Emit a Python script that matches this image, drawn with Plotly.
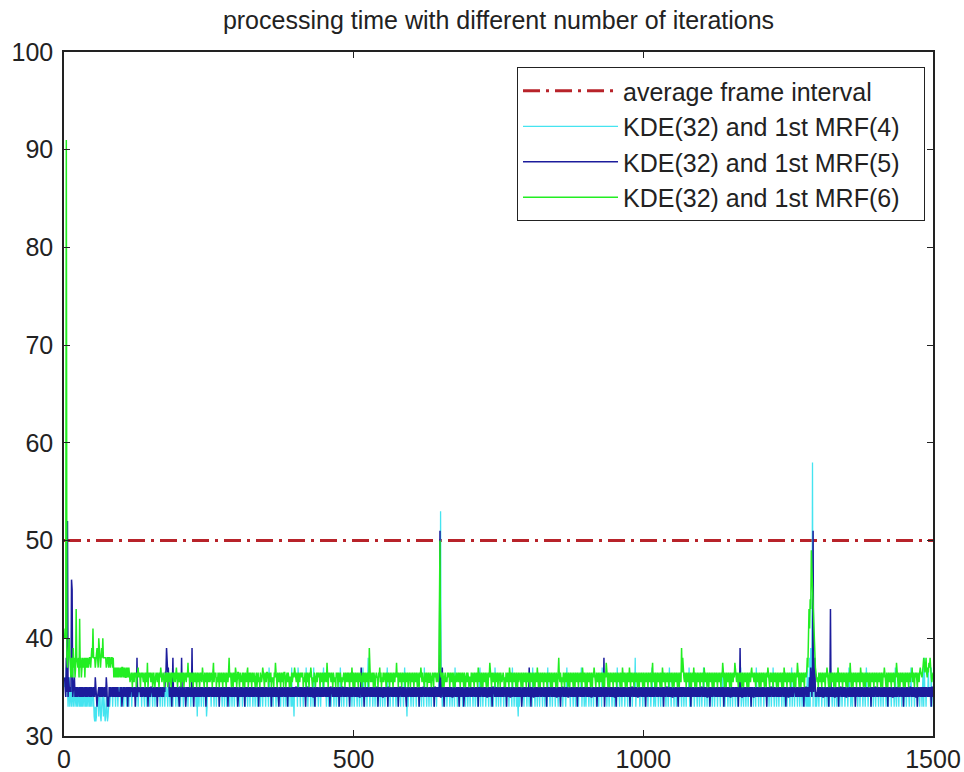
import plotly.graph_objects as go

# ---- data (frame index 1..1500), encoded one char per frame: value = 30 + base36(char)/2 ----
GREEN_STR = """
kmkkgegikg ecgeciegce qgeegcoegc egeggcgege gegggegigm gggeggigek ggegigkggg ggegggegge gggegcecec ecececcece
ecececcece cecbcdcadc bdcdacdecd cadcdcbdca dcbfacdcdb cdacdbacdc bdcadcedbc dcacdbdcad cbdcadcdbc dbcecadcbd
cadcbdacdc bdcfcdadcb dcadcbdcad bcdacdcbec cadbcdadcb dbcdcadfbd cdacbdcadc bdcadcbdca dcbdgcdcad cadcbedacd
dcadcbcdad cadcbdeacd bdcadcbdca cdacdbcadc bcedcadcbd dcadbcdacb cadcfdcadc bdcadcbdad dcacdbdcac cadbcdcedb
bdcadcbdcd cdacbdcadb dcadcedcac bdcacdbdcd cadcbdcadb dcbfcadcdc bdcadcbcad cdadcbdcac bcdcadbcdb dcadcbecad
cadcbdcadc bdcacdbdca dcbdcaicbd bcdadcacdc cadcebdacb dbcdcadcbd cadcbdcadc bdcfcdadcb dcadcbdcad cbdacdcadc
bdcadcbdca dcadcecbdc cadcbdacdb bdcacdcadc dcbdcbdced cdadcacdbc bdcdcadcbd cadcacdbcd bdcadcbdca dcacdbdcac
cadcbdcadc bdcaecbdca dcadcbdcad cadcfdcadc bdcadcbdac dcadcbcdca cadcbdcaed bdcadcbdca dcadbcdcad cadcbdcadc
bdcadcbdca dcadcbecad cadcbdcadc bdcadcbdca dcadcbdcad cadgcbdcac bdcadcbdca dcadcbdcad cadcbdcadc bdcaecbdca
dcadcbdcad cadcedcadc bdcadcbdca dcadcfdcad cadcbdcadc bdcadcbdca dcaecbdcad cadcbecadc bdcadcbdca dcadcbdcad
cadcbdcadc bdcadfbdca dcadcbdcad caecbdcadc bdcadcbdca dcadcbdcad cadcbidgdc bdcadcbdca dcadcbecad cadcbdcadc
bdcaecbdca dcadcbdcad cadcbdcadc bdcadcfdca dcadcbdcad cadcbdcfdc bdcadcbdca dcadcbdcad cadcbdecdc bdcadcbdca
dcadcbdcad cadcedcadc bdcadcbdca dcadcbdcad caecbdcadc bdcadcbdca dcadcfdcad cadcbdcadc cdgeiqmsqw yusqkgedcb
cadcbdcadc bdcadcedca dcadcbdcad cadcbecadc bdcadcbdca dcadcbfcad cadcbdcadc bdcaecbdca dcadcbdcad cadcbdcadc
bdcadcbdca dcadcedcad cadcbdcadc bdcadcfdca dcadcbdcad cadcbdcadc bdcebdcadc dcadcbdedc cdegfdegdc edfegdcbdd
"""
BLUE_STR = """
c98g968ca9 a9wu89ac8a 8a8a98a8a8 a8a89a8a8a 89a8a8a89a 8a8ca8689a 8a8a8a89a8 a8ca686a8a 89a8a8a8a8 a8a898a8a6
8a8a98a8a6 a8a8a9a8a8 8a6a8g8a9a a8a8a8a98a 8a8a6a8a8a a98a8a8a8a 6a8a8a98a8 a8a9ddidde a8a8a6ag8a 8a8a98a86a
a8g8a8a8a6 8a8a8a98a8 i8a6a8a8a8 a8a8a8a8a9 8a8a6a8a8a 8a98a8a8a8 a8a8a8a6a8 9a8a8a8a8a 8a6a8a98a8 a8a8a8a8a6
8a8a8a8a8a a6a8a8a98a 8a8a8a8a8a 98a8a6a8a8 a8a8a8a8a8 8a8a98a6a8 a8a8a8a8a8 6a8a8a8a98 a8a8a6a8a8 8a8a8a8a8a
a8a98a8a8a 8a8a8a6a8a a8a8a8a8a8 8a6a8a8a98 a8a8a8a8a8 8a8a8a8a6a a98a8a8a8a 8a8a6a8a8a a8a8a8a8a9 8a6a8a8a8a
a8a8a8a8a8 8ae8a8a6a8 a8a8a98a8a 8a8a8a8a8a a6a8a8a8a8 8a8a8a8a6a a8a98a8a8a 8a8a8a6a8a a8a8a8a8a8 6a8a8a98a8
a8a8a8a8a8 8a6a8a8a8a a8a8a8a98a 8a8a8a8a6a a8a8a8a8a8 8ae8a6a8a8 a8a8a8a8a8 8a8a98a8a8 a6a8a8a8a6 8a8a8a8a8a
a8a8a8a98a 8a8a6a8a8a a8a8a8a8a8 8a8a8a8a6a a98a8a8a8a 8a8a8a8a8a a8a6a8a8a8 8a8a8a98a8 a8a8a8a8a6 8a8a8a8a8a
a8e8a6a8a8 8a8a8a8a8a a8a8a98a8a 8a6a8a8a8a a8a8a8a8a8 8a8a8a6a8a a8a8a8a8a8 8a98a8a8a8 a8a8a6a8a8 8a8a8a8a8a
a8a8a8a8a8 8a8a98a8a6 a8a8a8a8a8 8g6a8a8a8a a8a8a8a8a8 8a6a8a8a98 a8a8a8a8a8 8a8a8a6a8a a8a8a8a8a8 8a8a98a8a8
a8a6a8a8a8 8a8a8a8a8a a8a8a8a98a 8a8a6a8a8a a8a8a8a8a8 8a98a8a8a6 a8a8a8a8a8 8a8a8a8a8a a6a8a8a98a 8a8a8a8a8a
a8a8a8a8a8 8a8a6a8a8a a8a98a8a8a 8a8a8a8a6a a8a8a8a8a8 8a8a8a98a8 a8a6a8i8a8 8a8a8a8a8a a8a8a6a8a8 8a98a8a8a8
a8a8a8a8a8 8a6a8a8a8a a8a8a8a98a 8a8a8a8a8a a8a8a6a8a8 8a8a8a8a8a a98a8a8a8a 8a8a8a6a8a a8a8a8c9ec 8ca9gg8989
a8a8a8a8a8 8a8a98a8a6 a8q8a8a8a8 8a8a8a6a8a a8a8a8a8a8 8a98a8a8a8 a8a8a6a8a8 8a8a8a8a98 a8a8a8a8a8 8a6a8a8a8a
a8a8a8a98a 8a8a8a8a8a a6a8a8a8a8 8a8a8a8a8a a8a98a8a6a 8a8a8a8a8a a8a8a8a8a8 8a6a8a98a8 a8a8a8a8a8 8a8a8a6aa8
"""
CYAN_STR = """
ac8e9a68c6 9a6c86a968 9686a86968 6968a68696 8a69686a96 8436348684 6a43698486 3486346869 a8a6a8a96a 8a6a98a6a8
9a6a8a96a8 a6a98a6a8a 8a96a8a6a9 a8a6a9a86a 8a6a8a96a8 a96a8a6a8a 6a8a96a8a6 a8a6a8a96a 8a6a98a6a8 a96a8a6a8a
6a8a96a8a6 a8a6a8a96a 8a6a98a6a4 a96a8a6a8a 6a8a946a8a a8a6a8a96a 8a6a98a6a8 a96a8a6a8a 6a8a96a8a6 a8a6a8a96a
8a6a98a6a8 a96a8a6a8a 6a8a96a8a6 a8a6a8a96a 8a6a98a6a8 a96e8a6a8a 6a8a96a8a6 a8a6a8a96a 8a6a98a6a8 a6e6a84a8a
8a6e98a6a8 a96a8a6e8a 6a8a96a8a6 e8a6a8a96a 8a6a98ae8a a96a8a6a8a 6a8a96a8a6 a8a6a8e96a 8a6a98a6a8 a96a8a6a8a
6a8a96a8a6 a8a6ae896a 8a6ag8a6a8 a96a8a6a8a 6a8a96a8a6 a8a6a8ae6a 8a6a98a6a8 a96a8a6a8a 6a8a96ae8a 84a6a8a96a
8a6a98a6a8 a96a8a6a8a 6e8a96a8a6 a8a6a8a96a 8a6a98ae8a a96a8a6a8a 6a8a96a8a6 a8a6e8a96a 8a6a98a6a8 a96a8a6a8a
6a8a96a8a6 a8a6a8ae6a 8a6a98a6a8 a96a8a6a8a 6a8e96a8a6 a8a6a8a96a 8a6a98a6a8 a96e8a6a8a 6a84a6a8a6 a8a6a8a96a
8a6a98a6e8 a96a8a6a8a 6a8a96a8a6 a8a6e8a96a 8a6a98a6a8 a96a8a6a8a 6a8a96ae8a a8a6a8a96a 8a6a98a6a8 a9e6a8a6a8
6a8a96a8a6 a8a6a8a96a 8a6a98a6e8 a96a8a6a8a 6a8a96a8a6 a8a6e8a96a 8a6a98a6a8 a96a8a6a8a 6a8a9g6a8a a8a6a8a96a
8a6a98a6a8 a96ae8a6a8 6a8a96a8a6 a8a6a8a96a 8a6ae8a6a8 a96a8a6a8a 6a8a96a8a6 a8a6a8a9e6 8a6a98a6a8 a96a8a6a8a
6a8e96a8a6 a8a6a8a96a 8a6a98a6a8 a96a8ae6a8 6a8a96a8a6 a8a6a8a96a 8a6a98ae6a a96a8a6a8a 6a8a96a8a6 a8a6e8a96a
8a6a98a6a8 a96a8a6a8a 6a8e96a8a6 a8a6a8a96a 8a6a98a6a8 a96a8e6a8a 6a8a96a8a6 a8a6a8a96a 96e6c6g6i8 cg6ge86968
8a6a98a6a8 a96a8a6a8a 6ae896a8a6 a8a6a8a96a 8a6a98a6a8 a96ae8a6a8 6a8a96a8a6 a8a6a8a96a 8a6ae8a6a8 a96a8a6a8a
6a8a96a8a6 a8a6a8a96a 8a6a98a6a8 a96ae86a8a 6a8a96a8a6 a8a6a8a96a 8e6a98a6a8 a96a8a6a8a 6ae6g8a6a8 9e8a96e6a8
"""

# values too large for the compact code (frame: ms)
GREEN_PEAKS = {4: 91, 648: 45, 649: 50, 1290: 49}
BLUE_PEAKS = {6: 52, 649: 51, 1293: 51}
CYAN_PEAKS = {650: 53, 1292: 58}

AVG_X = [0, 1500]
AVG_Y = [50, 50]

X_TICKS = [0, 500, 1000, 1500]
Y_TICKS = [30, 40, 50, 60, 70, 80, 90, 100]

NAMES = ["average frame interval", "KDE(32) and 1st MRF(4)",
         "KDE(32) and 1st MRF(5)", "KDE(32) and 1st MRF(6)"]
PAD = "\u2002\u00a0"   # right padding inside the legend box


def decode(s, peaks):
    chars = "".join(s.split())
    vals = [30 + int(c, 36) / 2 for c in chars]
    for k, v in peaks.items():
        vals[k - 1] = v
    return vals


cyan = decode(CYAN_STR, CYAN_PEAKS)
blue = decode(BLUE_STR, BLUE_PEAKS)
green = decode(GREEN_STR, GREEN_PEAKS)


def frames_for(vals):
    return list(range(1, len(vals) + 1))


FONT = "Liberation Sans, Arial, sans-serif"

fig = go.Figure()
fig.add_trace(go.Scatter(x=AVG_X, y=AVG_Y, mode="lines", name=NAMES[0],
                         line=dict(color="#b8232a", width=3, dash="17px,6px,3px,6px")))
fig.add_trace(go.Scatter(x=frames_for(cyan), y=cyan, mode="lines", name=NAMES[1] + PAD,
                         line=dict(color="#45e4f0", width=1.3)))
fig.add_trace(go.Scatter(x=frames_for(blue), y=blue, mode="lines", name=NAMES[2] + PAD,
                         line=dict(color="#1c1c9c", width=1.5)))
fig.add_trace(go.Scatter(x=frames_for(green), y=green, mode="lines", name=NAMES[3] + PAD,
                         line=dict(color="#22ee22", width=1.5)))

axis_common = dict(showline=True, linecolor="#222", linewidth=1.5, mirror="ticks",
                   ticks="inside", ticklen=6, tickcolor="#222", showgrid=False,
                   zeroline=False, tickfont=dict(family=FONT, size=25, color="#222"))

fig.update_layout(
    width=964, height=772,
    margin=dict(l=64, r=31, t=52, b=36),
    paper_bgcolor="white", plot_bgcolor="white",
    title=dict(text="processing time with different number of iterations",
               x=0.5, xref="paper", xanchor="center",
               y=1 - 20 / 772, yref="container", yanchor="middle",
               font=dict(family=FONT, size=25, color="#222")),
    xaxis=dict(range=[0, 1500], tickvals=X_TICKS, automargin=False, **axis_common),
    yaxis=dict(range=[30, 100], tickvals=Y_TICKS, automargin=False,
               ticklabelstandoff=4, **axis_common),
    legend=dict(x=0.5213, y=0.978, xanchor="left", yanchor="top",
                bordercolor="#222", borderwidth=1, bgcolor="white",
                font=dict(family=FONT, size=25, color="#222"),
                itemwidth=95, tracegroupgap=0),
    showlegend=True,
)

fig.write_html("out.html", config={"displayModeBar": False},
               post_script="document.body.style.margin='0';document.body.style.overflow='hidden';")
